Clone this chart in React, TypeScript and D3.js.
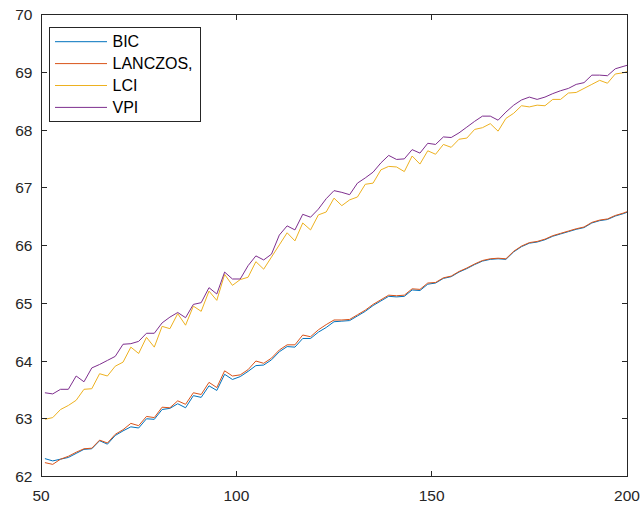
import React from "react";
import * as d3 from "d3";

const xs: number[] = d3.range(51, 202, 2);

const BIC = [62.31,62.27,62.30,62.33,62.40,62.47,62.48,62.62,62.56,62.71,62.79,62.86,62.84,63.00,62.99,63.16,63.18,63.26,63.19,63.40,63.37,63.57,63.49,63.77,63.68,63.73,63.82,63.92,63.93,64.02,64.16,64.25,64.24,64.39,64.39,64.50,64.58,64.68,64.69,64.70,64.78,64.86,64.96,65.04,65.12,65.11,65.12,65.23,65.22,65.33,65.35,65.43,65.46,65.54,65.60,65.67,65.73,65.76,65.77,65.76,65.89,65.98,66.04,66.06,66.10,66.16,66.20,66.24,66.28,66.31,66.39,66.43,66.45,66.51,66.55,66.60];
const LANCZOS = [62.24,62.21,62.30,62.35,62.42,62.48,62.49,62.63,62.58,62.73,62.81,62.92,62.88,63.04,63.02,63.20,63.19,63.31,63.25,63.45,63.42,63.63,63.54,63.83,63.74,63.76,63.85,64.00,63.96,64.05,64.19,64.28,64.28,64.45,64.42,64.54,64.63,64.71,64.71,64.72,64.80,64.88,64.98,65.06,65.14,65.13,65.14,65.25,65.24,65.35,65.36,65.44,65.47,65.55,65.61,65.68,65.74,65.77,65.78,65.77,65.90,65.99,66.05,66.07,66.11,66.17,66.21,66.25,66.29,66.32,66.40,66.44,66.46,66.52,66.56,66.61];
const LCI = [62.99,63.02,63.16,63.23,63.32,63.51,63.52,63.78,63.74,63.91,63.98,64.24,64.13,64.41,64.24,64.60,64.56,64.82,64.62,64.95,64.86,65.21,65.05,65.50,65.31,65.41,65.45,65.72,65.59,65.80,66.01,66.22,66.08,66.39,66.27,66.53,66.58,66.82,66.69,66.79,66.84,67.06,67.08,67.31,67.37,67.36,67.28,67.55,67.41,67.64,67.58,67.75,67.70,67.84,67.86,68.01,68.04,68.11,67.98,68.20,68.29,68.42,68.40,68.43,68.42,68.53,68.53,68.64,68.65,68.72,68.79,68.86,68.81,68.97,68.99,69.03];
const VPI = [63.45,63.43,63.51,63.51,63.74,63.64,63.88,63.94,64.01,64.08,64.29,64.30,64.34,64.48,64.48,64.66,64.76,64.84,64.75,64.98,65.01,65.27,65.16,65.54,65.42,65.42,65.65,65.82,65.75,65.85,66.18,66.34,66.27,66.54,66.49,66.63,66.81,66.95,66.92,66.88,67.08,67.17,67.27,67.43,67.56,67.49,67.50,67.66,67.60,67.77,67.75,67.88,67.87,67.95,68.05,68.15,68.24,68.24,68.17,68.31,68.43,68.52,68.57,68.53,68.57,68.63,68.68,68.72,68.79,68.82,68.95,68.95,68.94,69.06,69.10,69.14];

const seriesNames = ["BIC", "LANCZOS,", "LCI", "VPI"];
const seriesColors = ["#0072BD", "#D95319", "#EDB120", "#7E2F8E"];
const seriesData = [BIC, LANCZOS, LCI, VPI];

const xTicks = [50, 100, 150, 200];
const yTicks = [62, 63, 64, 65, 66, 67, 68, 69, 70];

const W = 641, H = 506;
const L = 41, R = 627, T = 14.5, B = 476.5;
const FONT = "'Liberation Sans', Arimo, Helvetica, Arial, sans-serif";
const AX = "#262626";

export default function App() {
  const x = d3.scaleLinear().domain([50, 200]).range([L, R]);
  const y = d3.scaleLinear().domain([62, 70]).range([B, T]);
  const line = d3.line<number>().x((_, i) => x(xs[i])).y((d) => y(d));
  const tl = 5.5;

  return (
    <svg width={W} height={H} style={{ position: "absolute", left: 0, top: 0, background: "#fff" }}>
      <defs>
        <clipPath id="plotclip">
          <rect x={L} y={T} width={R - L} height={B - T} />
        </clipPath>
      </defs>
      <rect x={0} y={0} width={W} height={H} fill="#fff" />
      <g clipPath="url(#plotclip)">
        {seriesData.map((s, k) => (
          <path key={k} d={line(s) || ""} fill="none" stroke={seriesColors[k]} strokeWidth={1} />
        ))}
      </g>
      <rect x={L} y={T} width={R - L} height={B - T} fill="none" stroke={AX} strokeWidth={1} shapeRendering="crispEdges" />
      {xTicks.map((t) => (
        <g key={"x" + t}>
          <line x1={x(t)} x2={x(t)} y1={B} y2={B - tl} stroke={AX} shapeRendering="crispEdges" />
          <line x1={x(t)} x2={x(t)} y1={T} y2={T + tl} stroke={AX} shapeRendering="crispEdges" />
          <text x={x(t)} y={501} textAnchor="middle" fontFamily={FONT} fontSize={15.5} fill={AX}>{t}</text>
        </g>
      ))}
      {yTicks.map((t) => (
        <g key={"y" + t}>
          <line x1={L} x2={L + tl} y1={y(t)} y2={y(t)} stroke={AX} shapeRendering="crispEdges" />
          <line x1={R} x2={R - tl} y1={y(t)} y2={y(t)} stroke={AX} shapeRendering="crispEdges" />
          <text x={32.5} y={y(t) + 5.5} textAnchor="end" fontFamily={FONT} fontSize={15.5} fill={AX}>{t}</text>
        </g>
      ))}
      <g>
        <rect x={49.5} y={27.5} width={151} height={94} fill="#fff" stroke={AX} strokeWidth={1} shapeRendering="crispEdges" />
        {seriesNames.map((n, k) => {
          const cy = 41.7 + k * 21.9;
          return (
            <g key={n}>
              <line x1={55} x2={107} y1={cy} y2={cy} stroke={seriesColors[k]} strokeWidth={1} />
              <text x={112.5} y={cy + 5.7} fontFamily={FONT} fontSize={16} fill="#000">{n}</text>
            </g>
          );
        })}
      </g>
    </svg>
  );
}
